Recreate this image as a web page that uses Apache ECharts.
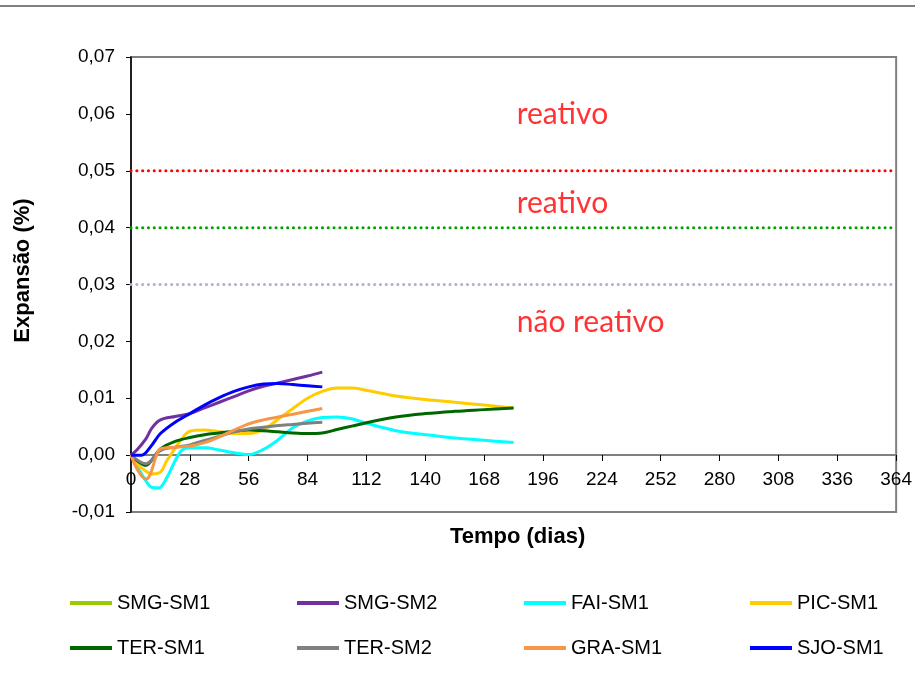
<!DOCTYPE html>
<html>
<head>
<meta charset="utf-8">
<script src="https://cdn.jsdelivr.net/npm/echarts@6/dist/echarts.min.js"></script>
<style>
  html, body { margin: 0; padding: 0; background: #fff; }
  #chart { width: 915px; height: 679px; }
</style>
</head>
<body>
<div id="chart"></div>
<script>
// séries de expansão (dias x %)
const seriesNames = ['SMG-SM1', 'SMG-SM2', 'FAI-SM1', 'PIC-SM1', 'TER-SM1', 'TER-SM2', 'GRA-SM1', 'SJO-SM1'];
const seriesColors = ['#99cc00', '#7030a0', '#00ffff', '#ffcc00', '#006600', '#808080', '#f79646', '#0000ff'];

const smg1Days = [];
const smg1Vals = [];

const smg2Days = [0, 3, 7, 10, 14, 21, 28, 35, 42, 49, 56, 63, 70, 77, 84, 91];
const smg2Vals = [0, 0.001, 0.0028, 0.0048, 0.0062, 0.0068, 0.0073, 0.0083, 0.0093, 0.0103, 0.0113, 0.0121, 0.0127, 0.0133, 0.0139, 0.0146];

const faiDays = [0, 3, 7, 10, 13, 17, 21, 24, 28, 35, 42, 49, 56, 63, 70, 77, 84, 91, 98, 105, 112, 126, 140, 154, 168, 182];
const faiVals = [0, -0.002, -0.0045, -0.0057, -0.0058, -0.004, -0.001, 0.0008, 0.0013, 0.0013, 0.0009, 0.0004, 0.0001, 0.001, 0.0027, 0.0048, 0.006, 0.0066, 0.0067, 0.0064, 0.0056, 0.0043, 0.0036, 0.003, 0.0026, 0.0022];

const picDays = [0, 3, 7, 10, 14, 17, 21, 24, 28, 35, 42, 49, 56, 63, 70, 77, 84, 91, 98, 105, 112, 126, 140, 154, 168, 182];
const picVals = [0, -0.0015, -0.0028, -0.0033, -0.003, -0.001, 0.0012, 0.0028, 0.0042, 0.0044, 0.0041, 0.0038, 0.0038, 0.0045, 0.0063, 0.0082, 0.0100, 0.0112, 0.0118, 0.0118, 0.0114, 0.0104, 0.0098, 0.0093, 0.0088, 0.0083];

const ter1Days = [0, 3, 7, 10, 14, 21, 28, 35, 42, 49, 56, 63, 70, 77, 84, 91, 98, 105, 112, 126, 140, 154, 168, 182];
const ter1Vals = [0, -0.001, -0.0018, -0.0008, 0.0011, 0.0024, 0.0031, 0.0036, 0.0039, 0.0042, 0.0044, 0.0043, 0.0041, 0.0039, 0.0038, 0.0039, 0.0045, 0.0051, 0.0057, 0.0067, 0.0073, 0.0077, 0.0080, 0.0083];

const ter2Days = [0, 7, 14, 21, 28, 35, 42, 49, 56, 63, 70, 77, 84, 91];
const ter2Vals = [0, -0.0015, 0.0008, 0.0014, 0.0018, 0.0026, 0.0033, 0.0041, 0.0046, 0.0049, 0.0052, 0.0054, 0.0056, 0.0058];

const graDays = [0, 3, 7, 9, 12, 14, 21, 28, 35, 42, 49, 56, 63, 70, 77, 84, 91];
const graVals = [0, -0.0025, -0.0042, -0.0035, -0.0002, 0.0011, 0.0014, 0.0016, 0.0022, 0.0032, 0.0044, 0.0055, 0.0062, 0.0067, 0.0072, 0.0077, 0.0082];

const sjoDays = [0, 5, 7, 10, 14, 21, 28, 35, 42, 49, 56, 63, 70, 77, 84, 91];
const sjoVals = [0, 0, 0.0004, 0.0018, 0.0038, 0.0058, 0.0073, 0.0088, 0.0101, 0.0112, 0.0120, 0.0125, 0.0126, 0.0124, 0.0122, 0.0120];

// limites de reatividade
const limitValues = [0.05, 0.04, 0.03];
const limitColors = ['#ff0000', '#00a000', '#b4aed0'];
const limitRange = [0, 364];

// anotações
const noteTexts = ['reativo', 'reativo', 'não reativo'];
const noteDays = [183.5, 183.5, 183.5];
const noteVals = [0.06, 0.0442, 0.0233];

const allDays = [smg1Days, smg2Days, faiDays, picDays, ter1Days, ter2Days, graDays, sjoDays];
const allVals = [smg1Vals, smg2Vals, faiVals, picVals, ter1Vals, ter2Vals, graVals, sjoVals];

const font = 'Liberation Sans, Arial, sans-serif';
const fmt = v => v.toFixed(2).replace('.', ',');

let series = [];

limitValues.forEach((v, i) => {
  series.push({
    name: 'limite' + i,
    type: 'line',
    silent: true,
    showSymbol: false,
    data: limitRange.map(d => [d, v]),
    lineStyle: { color: limitColors[i], width: 3, type: [0.1, 5.7], cap: 'round' },
    z: 1
  });
});

seriesNames.forEach((name, i) => {
  series.push({
    name: name,
    type: 'line',
    smooth: 0.35,
    showSymbol: false,
    data: allDays[i].map((d, k) => [d, allVals[i][k]]),
    itemStyle: { color: seriesColors[i] },
    lineStyle: { color: seriesColors[i], width: 3 },
    z: 3
  });
});

series.push({
  name: 'notas',
  type: 'scatter',
  silent: true,
  symbolSize: 0,
  data: noteTexts.map((t, i) => ({ value: [noteDays[i], noteVals[i]], name: t })),
  label: {
    show: true,
    position: 'right',
    distance: 0,
    formatter: p => p.name,
    color: '#ff0000',
    fontFamily: 'Lato, sans-serif',
    fontSize: 30
  },
  z: 4
});

const legendLefts = [65, 292, 519, 745];
const legends = legendLefts.map((left, c) => ({
  orient: 'vertical',
  left: left,
  top: 588,
  itemWidth: 42,
  itemHeight: 4,
  itemGap: 25,
  icon: 'rect',
  selectedMode: false,
  data: [seriesNames[c], seriesNames[c + 4]],
  textStyle: { fontFamily: font, fontSize: 20, color: '#000', lineHeight: 20 }
}));

const chart = echarts.init(document.getElementById('chart'));
chart.setOption({
  animation: false,
  backgroundColor: '#fff',
  graphic: [{
    type: 'line',
    shape: { x1: 0, y1: 6, x2: 915, y2: 6 },
    style: { stroke: '#808080', lineWidth: 2 }
  }],
  legend: legends,
  grid: {
    left: 131, top: 57, right: 16, bottom: 167,
    show: true, borderColor: '#808080', borderWidth: 2
  },
  xAxis: {
    type: 'value',
    min: 0, max: 364, interval: 28,
    offset: -57,
    name: 'Tempo (dias)',
    nameLocation: 'middle',
    nameGap: 71,
    nameTextStyle: { fontFamily: font, fontSize: 22, fontWeight: 'bold', color: '#000', padding: [0, 0, 0, 8] },
    axisLine: { onZero: false, lineStyle: { color: '#808080', width: 2 } },
    axisTick: { show: true, length: 6, lineStyle: { color: '#000' } },
    axisLabel: { fontFamily: font, fontSize: 19, color: '#000', margin: 15 },
    splitLine: { show: false }
  },
  yAxis: {
    type: 'value',
    min: -0.01, max: 0.07, interval: 0.01,
    name: 'Expansão (%)',
    nameLocation: 'middle',
    nameGap: 97,
    nameRotate: 90,
    nameTextStyle: { fontFamily: font, fontSize: 22, fontWeight: 'bold', color: '#000', padding: [0, 0, 0, 28] },
    axisLine: { show: true, lineStyle: { color: '#000', width: 1.5 } },
    axisTick: { show: true, length: 5, lineStyle: { color: '#000' } },
    axisLabel: { fontFamily: font, fontSize: 19, color: '#000', margin: 16, formatter: fmt },
    splitLine: { show: false }
  },
  series: series
});
</script>
</body>
</html>
